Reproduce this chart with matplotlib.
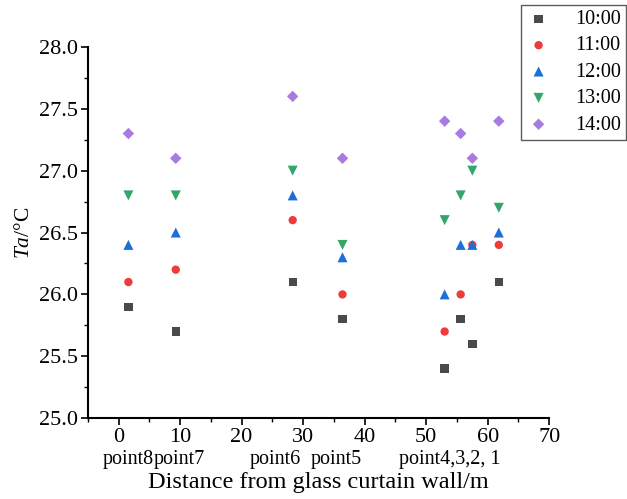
import matplotlib
matplotlib.use('Agg')
import matplotlib.pyplot as plt
from matplotlib.ticker import MultipleLocator

plt.rcParams['font.family'] = 'Liberation Serif'
plt.rcParams['mathtext.fontset'] = 'custom'
plt.rcParams['mathtext.it'] = 'Liberation Serif:italic'
plt.rcParams['mathtext.rm'] = 'Liberation Serif'

# distance of each measuring point (point8, 7, 6, 5, 4, 3, 2, 1)
distance = [1.6, 9.3, 28.3, 36.4, 53.0, 55.6, 57.5, 61.8]

t1000 = [25.9, 25.7, 26.1, 25.8, 25.4, 25.8, 25.6, 26.1]
t1100 = [26.1, 26.2, 26.6, 26.0, 25.7, 26.0, 26.4, 26.4]
t1200 = [26.4, 26.5, 26.8, 26.3, 26.0, 26.4, 26.4, 26.5]
t1300 = [26.8, 26.8, 27.0, 26.4, 26.6, 26.8, 27.0, 26.7]
t1400 = [27.3, 27.1, 27.6, 27.1, 27.4, 27.3, 27.1, 27.4]

labels = ['10:00', '11:00', '12:00', '13:00', '14:00']
colors = ['#4a4a4a', '#ee3b3b', '#1c6fd9', '#33a66a', '#a87be0']
markers = ['s', 'o', '^', 'v', 'D']
sizes = [36, 36, 52, 52, 34]

# point names under the tick labels
point_names = ['point8', 'point7', 'point6', 'point5', 'point4,3,2, 1']
point_pos = [1.5, 9.9, 25.4, 35.4, 53.8]

fig = plt.figure(figsize=(6.27, 4.99), dpi=100)
ax = fig.add_axes([0.140, 0.162, 0.736, 0.744])

series = [t1000, t1100, t1200, t1300, t1400]
for vals, lab, c, m, s in zip(series, labels, colors, markers, sizes):
    ax.scatter(distance, vals, marker=m, color=c, s=s, label=lab,
               edgecolors='none', zorder=3)

ax.set_xlim(-5, 70)
ax.set_ylim(25, 28)
ax.xaxis.set_major_locator(MultipleLocator(10))
ax.xaxis.set_minor_locator(MultipleLocator(5))
ax.yaxis.set_major_locator(MultipleLocator(0.5))
ax.yaxis.set_minor_locator(MultipleLocator(0.25))
ax.yaxis.set_major_formatter(matplotlib.ticker.FormatStrFormatter('%.1f'))

ax.spines['top'].set_visible(False)
ax.spines['right'].set_visible(False)
ax.spines['left'].set_linewidth(1.5)
ax.spines['bottom'].set_linewidth(1.5)
ax.tick_params(which='major', direction='out', length=5, width=1.2,
               labelsize=16, pad=2)
ax.tick_params(which='minor', direction='out', length=3, width=1)

for name, x in zip(point_names, point_pos):
    ax.text(x, -0.085, name, transform=ax.get_xaxis_transform(),
            ha='center', va='top', fontsize=14.5)

ax.set_xlabel('Distance from glass curtain wall/m', fontsize=17.5, labelpad=18)
ax.set_ylabel(r'$Ta$/°C', fontsize=15.5, labelpad=4)

leg = fig.legend(loc='upper right', bbox_to_anchor=(0.998, 0.99),
                 borderaxespad=0, fontsize=14.5, frameon=True, fancybox=False,
                 edgecolor='#333333', handletextpad=1.2, borderpad=0.25,
                 labelspacing=0.36, handlelength=1.2)
leg.get_frame().set_linewidth(1.0)

fig.savefig('out.png', dpi=100)
